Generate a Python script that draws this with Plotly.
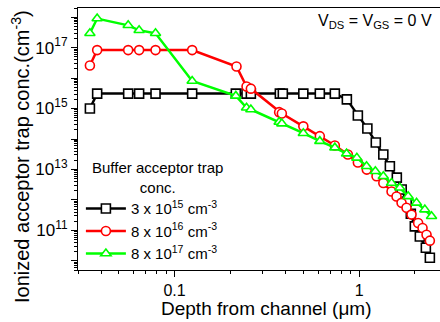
import plotly.graph_objects as go
import math

# ---- data (depth in um, concentration in cm^-3) ----
depth_3e15 = [0.0348, 0.0381, 0.0561, 0.0643, 0.0789, 0.1246, 0.2148, 0.2455, 0.2591,
              0.372, 0.386, 0.4985, 0.6124, 0.7385, 0.858, 0.984, 1.108, 1.231, 1.352,
              1.467, 1.60, 1.70, 1.81, 1.905, 2.003, 2.132, 2.298, 2.416]
conc_3e15 = [1.0e15, 3.1e15, 3.1e15, 3.1e15, 3.1e15, 3.1e15, 3.1e15, 3.1e15, 3.1e15,
             3.1e15, 3.1e15, 3.1e15, 3.1e15, 3.1e15, 2.0e15, 5.9e14, 2.2e14, 7.7e13, 3.1e13,
             1.27e13, 5.4e12, 2.2e12, 8.9e11, 3.5e11, 1.35e11, 6.3e10, 2.7e10, 1.26e10]

depth_8e16 = [0.0348, 0.0381, 0.0561, 0.0643, 0.0789, 0.1246, 0.2166, 0.2455, 0.2591,
              0.3687, 0.3813, 0.4985, 0.6124, 0.7385, 0.8685, 0.984, 1.10, 1.242, 1.352,
              1.498, 1.594, 1.697, 1.806, 1.922, 2.087, 2.205, 2.318, 2.416]
conc_8e16 = [2.6e16, 8.3e16, 8.3e16, 8.3e16, 8.3e16, 8.3e16, 2.4e16, 5.3e15, 4.5e15,
             7.6e14, 6.9e14, 2.6e14, 1.24e14, 6.1e13, 3.1e13, 1.7e13, 9.9e12, 6.0e12, 3.6e12,
             1.9e12, 1.29e12, 8.0e11, 5.5e11, 3.3e11, 1.75e11, 1.2e11, 7.2e10, 4.6e10]

depth_8e17 = [0.0348, 0.0381, 0.0561, 0.0643, 0.0789, 0.1246, 0.2148, 0.2455, 0.2591,
              0.3687, 0.3813, 0.4985, 0.6124, 0.7385, 0.855, 0.972, 1.097, 1.224, 1.352,
              1.498, 1.661, 1.843, 2.046, 2.269, 2.467]
conc_8e17 = [2.95e17, 9.0e17, 5.4e17, 3.7e17, 2.95e17, 8.0e15, 2.6e15, 1.06e15, 9.3e14,
             3.6e14, 3.2e14, 1.55e14, 8.5e13, 5.2e13, 3.3e13, 2.4e13, 1.27e13, 8.7e12, 6.0e12,
             3.6e12, 2.5e12, 1.31e12, 8.0e11, 4.8e11, 2.9e11]

series_names = ["3 x 10<sup>15</sup> cm<sup>-3</sup>",
                "8 x 10<sup>16</sup> cm<sup>-3</sup>",
                "8 x 10<sup>17</sup> cm<sup>-3</sup>"]
series_colors = ["#000000", "#FF0000", "#00FF00"]
series_symbols = ["square", "circle", "triangle-up"]

x_tick_vals = [0.1, 1]
x_tick_text = ["0.1", "1"]
y_tick_vals = [1e10, 1e11, 1e12, 1e13, 1e14, 1e15, 1e16, 1e17, 1e18]
y_tick_text = ["", "10<sup>11</sup>", "", "10<sup>13</sup>", "", "10<sup>15</sup>", "",
               "10<sup>17</sup>", ""]

FONT = "Liberation Sans, Arial, sans-serif"

fig = go.Figure()
data = [(depth_3e15, conc_3e15), (depth_8e16, conc_8e16), (depth_8e17, conc_8e17)]
for (xs, ys), name, col, sym in zip(data, series_names, series_colors, series_symbols):
    fig.add_trace(go.Scatter(
        x=xs, y=ys, name=name, mode="lines+markers",
        line=dict(color=col, width=2.5),
        marker=dict(symbol=sym, size=9, color="white",
                    line=dict(color=col, width=1.6)),
    ))

fig.update_layout(
    width=440, height=322,
    margin=dict(l=78, r=0, t=8, b=52),
    paper_bgcolor="white", plot_bgcolor="white",
    font=dict(family=FONT, size=16, color="black"),
    showlegend=True,
    legend=dict(x=0.008, y=0.297, xanchor="left", yanchor="top",
                bgcolor="rgba(0,0,0,0)", font=dict(size=15, family=FONT),
                tracegroupgap=0, itemwidth=40),
    xaxis=dict(type="log", range=[math.log10(0.03), 0.438],
               tickmode="array", tickvals=x_tick_vals, ticktext=x_tick_text,
               ticks="outside", ticklen=6, tickwidth=1, tickcolor="black",
               minor=dict(ticks="outside", ticklen=3, tickcolor="black", dtick="D1"),
               showline=True, linecolor="black", linewidth=1.2, mirror=True,
               showgrid=False, zeroline=False,
               tickfont=dict(size=16, family=FONT)),
    yaxis=dict(type="log", range=[math.log10(5e9), math.log10(2e18)],
               tickmode="array", tickvals=y_tick_vals, ticktext=y_tick_text,
               ticks="outside", ticklen=6, tickwidth=1, tickcolor="black",
               minor=dict(ticks="outside", ticklen=3, tickcolor="black", dtick="D1"),
               showline=True, linecolor="black", linewidth=1.2, mirror=False,
               showgrid=False, zeroline=False,
               tickfont=dict(size=17, family=FONT)),
)

# axis titles as annotations
fig.add_annotation(text="Depth from channel (\u03bcm)", xref="paper", yref="paper",
                   x=(266 - 78) / 362, y=-(308 - 270) / 262, xanchor="center", yanchor="middle",
                   showarrow=False, font=dict(size=19, family=FONT))
fig.add_annotation(text="Ionized acceptor trap conc.(cm<sup>-3</sup>)", xref="paper", yref="paper",
                   x=-(78 - 20) / 362, y=(270 - 157) / 262, xanchor="center", yanchor="middle",
                   textangle=-90, showarrow=False, font=dict(size=20, family=FONT))
# legend title
fig.add_annotation(text="Buffer acceptor trap<br>conc.", xref="paper", yref="paper",
                   x=(157 - 78) / 362, y=(270 - 177) / 262, xanchor="center", yanchor="middle",
                   showarrow=False, font=dict(size=15, family=FONT), align="center")
# condition label
fig.add_annotation(text="V<sub>DS</sub> = V<sub>GS</sub> = 0 V", xref="paper", yref="paper",
                   x=(434 - 78) / 362, y=(270 - 21) / 262, xanchor="right", yanchor="middle",
                   showarrow=False, font=dict(size=16, family=FONT))

fig.write_html("out.html")
